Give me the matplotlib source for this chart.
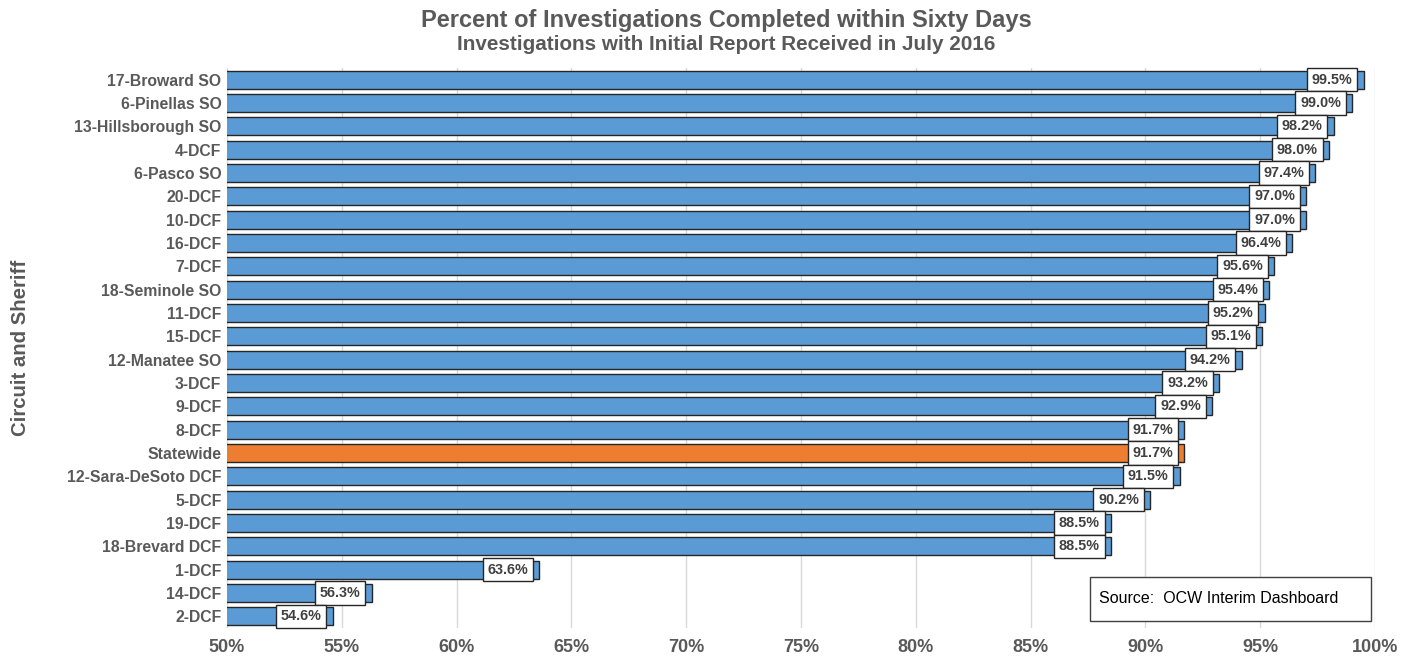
import matplotlib.pyplot as plt
from matplotlib.patches import Rectangle
from matplotlib.ticker import FuncFormatter

plt.rcParams['font.family'] = ['Liberation Sans', 'DejaVu Sans']

names = ["17-Broward SO", "6-Pinellas SO", "13-Hillsborough SO", "4-DCF", "6-Pasco SO",
         "20-DCF", "10-DCF", "16-DCF", "7-DCF", "18-Seminole SO", "11-DCF", "15-DCF",
         "12-Manatee SO", "3-DCF", "9-DCF", "8-DCF", "Statewide", "12-Sara-DeSoto DCF",
         "5-DCF", "19-DCF", "18-Brevard DCF", "1-DCF", "14-DCF", "2-DCF"]
pct = [99.5, 99.0, 98.2, 98.0, 97.4, 97.0, 97.0, 96.4, 95.6, 95.4, 95.2, 95.1,
       94.2, 93.2, 92.9, 91.7, 91.7, 91.5, 90.2, 88.5, 88.5, 63.6, 56.3, 54.6]

fig = plt.figure(figsize=(14.11, 6.56), dpi=100)
ax = fig.add_axes([227 / 1411, 28 / 656, 1148 / 1411, 560 / 656])

grey = "#595959"
y = list(range(len(names)))
colors = ["#ED7D31" if n == "Statewide" else "#5B9BD5" for n in names]
ax.barh(y, pct, left=0, height=0.78, color=colors, edgecolor="#262626", linewidth=1.0, zorder=3)

for yi, v in zip(y, pct):
    ax.annotate(f"{v:.1f}%", xy=(v, yi), xytext=(-8, 0), textcoords="offset points",
                ha="right", va="center", fontsize=10.4, fontweight="bold", color="#404040",
                bbox=dict(boxstyle="square,pad=0.33", fc="white", ec="#262626", lw=1.0),
                zorder=4)

ax.set_xlim(50, 100)
ax.set_ylim(len(names) - 0.5, -0.5)
ax.set_xticks(range(50, 101, 5))
ax.xaxis.set_major_formatter(FuncFormatter(lambda v, p: f"{v:.0f}%"))
ax.set_yticks(y)
ax.set_yticklabels(names)
ax.tick_params(axis="both", length=0, labelcolor=grey)
ax.tick_params(axis="y", pad=4, labelsize=11.3)
ax.tick_params(axis="x", pad=8, labelsize=13)
for lab in ax.get_xticklabels() + ax.get_yticklabels():
    lab.set_fontweight("bold")
ax.grid(axis="x", color="#d9d9d9", linewidth=1, zorder=0)
for s in ax.spines.values():
    s.set_visible(False)

ax.set_ylabel("Circuit and Sheriff", fontsize=14.7, fontweight="bold", color=grey)
ax.yaxis.set_label_coords(-0.1716, 0.5)

fig.text(726 / 1411, 1 - 20 / 656, "Percent of Investigations Completed within Sixty Days",
         ha="center", va="center", fontsize=17, fontweight="bold", color=grey)
fig.text(726 / 1411, 1 - 45 / 656, "Investigations with Initial Report Received in July 2016",
         ha="center", va="center", fontsize=14.9, fontweight="bold", color=grey)

ax.add_patch(Rectangle((0.7517, 0.0125), 0.2448, 0.0785, transform=ax.transAxes,
                       fc="white", ec="#404040", lw=1.0, zorder=5))
ax.text(0.760, 0.052, "Source:  OCW Interim Dashboard", transform=ax.transAxes,
        ha="left", va="center", fontsize=11.5, color="black", zorder=6)

fig.savefig("out.png", dpi=100)
